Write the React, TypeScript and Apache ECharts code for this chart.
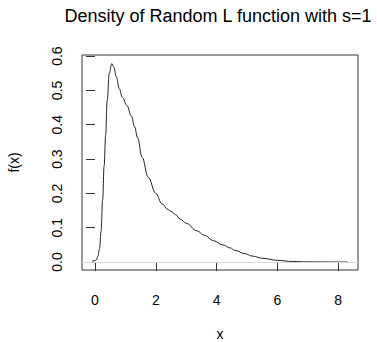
import React, { useEffect, useRef } from "react";
import * as echarts from "echarts";

const xValues = [-0.1, 0.0, 0.05, 0.1, 0.15, 0.2, 0.25, 0.3, 0.35, 0.4, 0.47, 0.55, 0.62, 0.7, 0.8, 0.9, 1.05, 1.2, 1.3, 1.4, 1.55, 1.75, 2.0, 2.2, 2.4, 2.5, 2.65, 2.8, 3.0, 3.35, 3.6, 3.9, 4.2, 4.45, 4.6, 4.9, 5.2, 5.5, 6.0, 6.5, 7.0, 7.5, 8.0, 8.32];
const density = [0.002, 0.004, 0.007, 0.018, 0.04, 0.09, 0.18, 0.28, 0.37, 0.47, 0.55, 0.578, 0.568, 0.54, 0.505, 0.48, 0.456, 0.425, 0.395, 0.362, 0.305, 0.247, 0.2, 0.17, 0.153, 0.148, 0.138, 0.125, 0.113, 0.091, 0.078, 0.062, 0.05, 0.041, 0.034, 0.025, 0.017, 0.011, 0.005, 0.0015, 0.0005, 0.0002, 0.0001, 0.0];
const xTicks = [0, 2, 4, 6, 8];
const yTicks = [0, 0.1, 0.2, 0.3, 0.4, 0.5, 0.6];
const titleText = "Density of Random L function with s=1";

const FONT = "'Liberation Sans', Arial, Helvetica, sans-serif";

export default function App() {
  const ref = useRef<HTMLDivElement>(null);
  useEffect(() => {
    if (!ref.current) return;
    const chart = echarts.init(ref.current, undefined, { renderer: "svg" });
    const data = xValues.map((x, i) => [x, density[i]]);
    chart.setOption({
      animation: false,
      backgroundColor: "#ffffff",
      title: {
        text: titleText,
        left: 218,
        top: 7,
        padding: 0,
        textAlign: "center",
        textStyle: { fontFamily: FONT, fontSize: 18, fontWeight: "normal", color: "#000" },
      },
      grid: {
        left: 82,
        top: 55,
        width: 276,
        height: 215,
        show: true,
        borderColor: "#333",
        borderWidth: 1,
        backgroundColor: "transparent",
        outerBoundsMode: "none",
        containLabel: false,
      },
      xAxis: {
        type: "value",
        min: -0.4277,
        max: 8.65,
        splitLine: { show: false },
        axisLine: { show: false },
        axisTick: { show: true, customValues: xTicks, length: 9, lineStyle: { color: "#333" } },
        axisLabel: {
          customValues: xTicks,
          margin: 23,
          fontFamily: FONT,
          fontSize: 14,
          color: "#000",
        },
        name: "x",
        nameLocation: "middle",
        nameGap: 57,
        nameTextStyle: { fontFamily: FONT, fontSize: 14, color: "#000" },
      },
      yAxis: {
        type: "value",
        min: -0.0232,
        max: 0.6032,
        splitLine: { show: false },
        axisLine: { show: false },
        axisTick: { show: true, customValues: yTicks, length: 9, lineStyle: { color: "#333" } },
        axisLabel: {
          customValues: yTicks,
          rotate: 90,
          margin: 18,
          fontFamily: FONT,
          fontSize: 14,
          color: "#000",
          formatter: (v: number) => v.toFixed(1),
        },
        name: "f(x)",
        nameLocation: "middle",
        nameGap: 61,
        nameRotate: 90,
        nameTextStyle: { fontFamily: FONT, fontSize: 14, color: "#000" },
      },
      series: [
        {
          type: "line",
          data,
          showSymbol: false,
          smooth: 0.4,
          smoothMonotone: "x",
          lineStyle: { color: "#222", width: 1 },
          markLine: {
            silent: true,
            symbol: "none",
            label: { show: false },
            lineStyle: { color: "#d8d8d8", width: 1, type: "solid" },
            data: [{ yAxis: 0 }],
          },
        },
      ],
    });
    return () => chart.dispose();
  }, []);
  return (
    <div
      ref={ref}
      style={{ position: "fixed", left: 0, top: 0, width: 377, height: 342 }}
    />
  );
}
